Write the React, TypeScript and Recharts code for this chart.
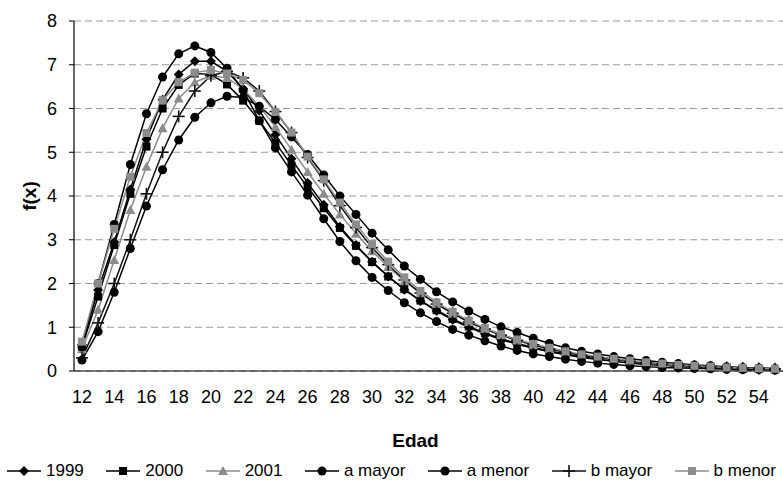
import React from "react";
import {
  LineChart,
  Line,
  XAxis,
  YAxis,
  CartesianGrid,
} from "recharts";

const ages = [
  12, 13, 14, 15, 16, 17, 18, 19, 20, 21, 22, 23, 24, 25, 26, 27, 28, 29, 30, 31, 32, 33,
  34, 35, 36, 37, 38, 39, 40, 41, 42, 43, 44, 45, 46, 47, 48, 49, 50, 51, 52, 53, 54, 55,
];

const s1999 = [
  0.6, 1.85, 2.95, 4.15, 5.3, 6.2, 6.78, 7.08, 7.08, 6.85,
  6.45, 5.95, 5.4, 4.85, 4.3, 3.8, 3.3, 2.88, 2.5, 2.16,
  1.86, 1.6, 1.37, 1.17, 1.0, 0.85, 0.72, 0.61, 0.52, 0.44,
  0.37, 0.31, 0.26, 0.22, 0.18, 0.15, 0.13, 0.11, 0.09, 0.07,
  0.06, 0.05, 0.04, 0.04,
];
const s2000 = [
  0.55, 1.7, 2.88, 4.05, 5.13, 6.0, 6.54, 6.8, 6.78, 6.55,
  6.18, 5.72, 5.22, 4.7, 4.2, 3.72, 3.27, 2.86, 2.49, 2.16,
  1.87, 1.61, 1.39, 1.19, 1.02, 0.87, 0.74, 0.63, 0.54, 0.46,
  0.39, 0.33, 0.28, 0.23, 0.19, 0.16, 0.14, 0.11, 0.09, 0.08,
  0.07, 0.05, 0.05, 0.04,
];
const s2001 = [
  0.5, 1.4, 2.54, 3.68, 4.67, 5.55, 6.23, 6.6, 6.75, 6.7,
  6.45, 6.05, 5.58, 5.06, 4.55, 4.05, 3.58, 3.14, 2.74, 2.38,
  2.06, 1.78, 1.53, 1.31, 1.12, 0.96, 0.82, 0.7, 0.59, 0.5,
  0.42, 0.36, 0.3, 0.25, 0.21, 0.18, 0.15, 0.12, 0.1, 0.09,
  0.07, 0.06, 0.05, 0.04,
];
const aMayor = [
  0.55, 2.0, 3.35, 4.72, 5.88, 6.72, 7.25, 7.43, 7.28, 6.92,
  6.42, 5.72, 5.1, 4.55, 4.02, 3.48, 2.96, 2.52, 2.14, 1.84,
  1.56, 1.33, 1.13, 0.95, 0.82, 0.69, 0.57, 0.47, 0.39, 0.33,
  0.27, 0.22, 0.18, 0.15, 0.12, 0.1, 0.08, 0.07, 0.06, 0.05,
  0.04, 0.03, 0.03, 0.02,
];
const aMenor = [
  0.25, 0.9, 1.8, 2.8, 3.77, 4.6, 5.28, 5.8, 6.13, 6.28,
  6.25, 6.05, 5.75, 5.35, 4.95, 4.48, 4.0, 3.58, 3.15, 2.77,
  2.4, 2.1, 1.81, 1.58, 1.37, 1.18, 1.01, 0.88, 0.75, 0.63,
  0.53, 0.45, 0.39, 0.33, 0.28, 0.24, 0.2, 0.17, 0.14, 0.12,
  0.1, 0.08, 0.07, 0.06,
];
const bMayor = [
  0.3, 1.1, 2.0, 3.0, 4.05, 5.0, 5.82, 6.4, 6.75, 6.85,
  6.7, 6.4, 5.93, 5.45, 4.88, 4.35, 3.78, 3.28, 2.82, 2.43,
  2.08, 1.78, 1.53, 1.32, 1.12, 0.96, 0.82, 0.7, 0.6, 0.5,
  0.43, 0.36, 0.31, 0.26, 0.22, 0.19, 0.16, 0.13, 0.11, 0.09,
  0.08, 0.07, 0.06, 0.05,
];
const bMenor = [
  0.67, 2.0, 3.25, 4.44, 5.44, 6.19, 6.6, 6.82, 6.88, 6.8,
  6.65, 6.35, 5.92, 5.45, 4.9, 4.38, 3.85, 3.35, 2.9, 2.5,
  2.14, 1.83, 1.57, 1.35, 1.15, 0.98, 0.84, 0.72, 0.62, 0.53,
  0.45, 0.38, 0.33, 0.28, 0.24, 0.2, 0.17, 0.14, 0.12, 0.1,
  0.08, 0.07, 0.06, 0.05,
];

const yTicks = [0, 1, 2, 3, 4, 5, 6, 7, 8];

type Shape = "diamond" | "square" | "triangle" | "circle" | "plus";

interface SeriesDef {
  key: string;
  name: string;
  values: number[];
  color: string;
  shape: Shape;
}

const series: SeriesDef[] = [
  { key: "s1999", name: "1999", values: s1999, color: "#000", shape: "diamond" },
  { key: "s2000", name: "2000", values: s2000, color: "#000", shape: "square" },
  { key: "s2001", name: "2001", values: s2001, color: "#8c8c8c", shape: "triangle" },
  { key: "aMayor", name: "a mayor", values: aMayor, color: "#000", shape: "circle" },
  { key: "aMenor", name: "a menor", values: aMenor, color: "#000", shape: "circle" },
  { key: "bMayor", name: "b mayor", values: bMayor, color: "#111", shape: "plus" },
  { key: "bMenor", name: "b menor", values: bMenor, color: "#8c8c8c", shape: "square" },
];

const data = ages.map((age, i) => {
  const row: Record<string, number> = { age };
  series.forEach((s) => {
    row[s.key] = s.values[i];
  });
  return row;
});

const FONT = "'Liberation Sans', Arial, sans-serif";

const Marker = ({ cx, cy, shape, color }: { cx: number; cy: number; shape: Shape; color: string }) => {
  if (cx == null || cy == null) return null;
  switch (shape) {
    case "diamond":
      return <polygon points={`${cx},${cy - 5} ${cx + 5},${cy} ${cx},${cy + 5} ${cx - 5},${cy}`} fill={color} />;
    case "square":
      return <rect x={cx - 4} y={cy - 4} width={8} height={8} fill={color} />;
    case "triangle":
      return <polygon points={`${cx},${cy - 5} ${cx + 5},${cy + 4} ${cx - 5},${cy + 4}`} fill={color} />;
    case "circle":
      return <circle cx={cx} cy={cy} r={4.5} fill={color} />;
    case "plus":
      return (
        <g stroke={color} strokeWidth={1.6}>
          <line x1={cx - 6} y1={cy} x2={cx + 6} y2={cy} />
          <line x1={cx} y1={cy - 6} x2={cx} y2={cy + 6} />
        </g>
      );
  }
  return null;
};

const LegendRow = () => (
  <div
    style={{
      position: "absolute",
      left: 6,
      top: 461,
      width: 770,
      display: "flex",
      justifyContent: "space-between",
      alignItems: "center",
      fontFamily: FONT,
      fontSize: 17,
      color: "#000",
    }}
  >
    {series.map((s) => (
      <div key={s.key} style={{ display: "flex", alignItems: "center" }}>
        <svg width={36} height={16}>
          <line x1={1} y1={8} x2={35} y2={8} stroke={s.color} strokeWidth={1.5} />
          <Marker cx={18} cy={8} shape={s.shape} color={s.color} />
        </svg>
        <span style={{ marginLeft: 4 }}>{s.name}</span>
      </div>
    ))}
  </div>
);

const YLabel = (props: any) => {
  const vb = props.viewBox || {};
  const cy = vb.y + vb.height / 2;
  return (
    <text
      x={29}
      y={cy}
      transform={`rotate(-90, 29, ${cy})`}
      textAnchor="middle"
      dominantBaseline="central"
      fontFamily={FONT}
      fontSize={19}
      fontWeight="bold"
      fill="#000"
    >
      f(x)
    </text>
  );
};

const App: React.FC = () => {
  return (
    <div style={{ position: "absolute", left: 0, top: 0, width: 783, height: 485, background: "#fff" }}>
      <LineChart
        width={783}
        height={485}
        data={data}
        margin={{ top: 21, right: 0, left: 0, bottom: 34 }}
      >
        <CartesianGrid vertical={false} stroke="#9a9a9a" strokeDasharray="7 4" />
        <XAxis
          dataKey="age"
          interval={1}
          height={80}
          padding={{ left: 8, right: 8 }}
          tickLine={false}
          tickSize={0}
          tickMargin={19}
          axisLine={{ stroke: "#000", strokeWidth: 1.2 }}
          tick={{ fill: "#000", fontSize: 18, fontFamily: FONT }}
          label={{
            value: "Edad",
            position: "insideBottom",
            offset: 4,
            dx: -13,
            fill: "#000",
            fontSize: 19,
            fontWeight: "bold",
            fontFamily: FONT,
          }}
        />
        <YAxis
          width={74}
          domain={[0, 8]}
          ticks={yTicks}
          interval={0}
          tickSize={5}
          tickMargin={12}
          tickLine={{ stroke: "#000" }}
          axisLine={{ stroke: "#000", strokeWidth: 1.2 }}
          tick={{ fill: "#000", fontSize: 18, fontFamily: FONT }}
          label={<YLabel />}
        />
        {series.map((s) => (
          <Line
            key={s.key}
            dataKey={s.key}
            name={s.name}
            type="linear"
            stroke={s.color}
            strokeWidth={1.5}
            isAnimationActive={false}
            dot={(p: any) => (
              <Marker key={`${s.key}-${p.index}`} cx={p.cx} cy={p.cy} shape={s.shape} color={s.color} />
            )}
            activeDot={false}
          />
        ))}
      </LineChart>
      <LegendRow />
    </div>
  );
};

export default App;
